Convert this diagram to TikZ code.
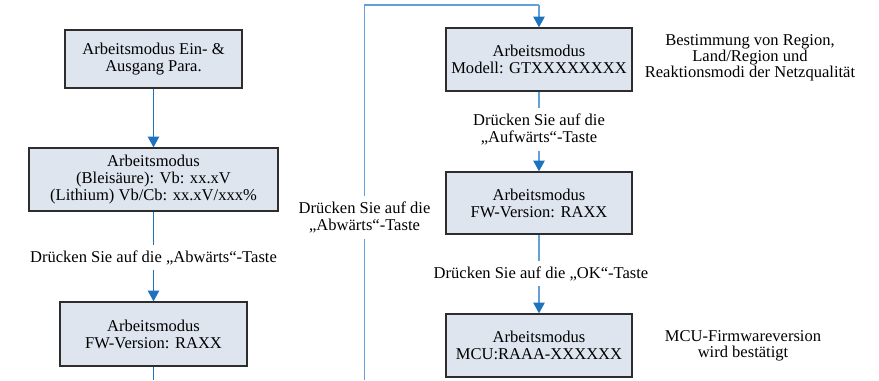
\documentclass[tikz,border=0pt]{standalone}
\usepackage{fontspec}
\setmainfont{Liberation Serif}
\usetikzlibrary{arrows.meta}
\definecolor{boxfill}{RGB}{222,229,239}
\definecolor{boxdraw}{RGB}{45,45,45}
\definecolor{arrblue}{RGB}{30,115,190}
\definecolor{loopblue}{RGB}{100,160,215}
\tikzset{
  modebox/.style={draw=boxdraw, fill=boxfill, line width=1pt, align=center, inner sep=0pt, font=\fontsize{12.4}{12.6}\selectfont},
  lbl/.style={align=center, inner xsep=2pt, inner ysep=4pt, font=\fontsize{12.4}{12.6}\selectfont},
  note/.style={align=center, inner sep=0pt, font=\fontsize{12.4}{12}\selectfont},
  conn/.style={draw=arrblue, line width=0.9pt},
  arr/.style={conn, -{Triangle[width=8.5pt,length=8pt,color=arrblue]}},
  lconn/.style={draw=loopblue, line width=0.9pt},
  larr/.style={lconn, -{Triangle[width=8.5pt,length=8pt,color=arrblue]}}
}
\begin{document}
\begin{tikzpicture}[x=0.75pt,y=-0.75pt]
\useasboundingbox (0,0) rectangle (879,380);
% left column
\node[modebox, minimum width=177*0.75pt, minimum height=58*0.75pt] (b1) at (153.5,59) {Arbeitsmodus Ein- \&\\Ausgang Para.};
\node[modebox, minimum width=249*0.75pt, minimum height=63*0.75pt] (b2) at (153.5,179.5) {Arbeitsmodus\\(Bleisäure): Vb: xx.xV\\(Lithium) Vb/Cb: xx.xV/xxx\%};
\node[lbl] (l1) at (153.5,257.5) {Drücken Sie auf die „Abwärts“-Taste};
\node[modebox, minimum width=187*0.75pt, minimum height=64*0.75pt] (b3) at (153.5,334) {Arbeitsmodus\\FW-Version: RAXX};
\coordinate (e1) at (153.5,380);
\draw[arr] (b1) -- (b2);
\draw[conn] (b2) -- (l1);
\draw[arr] (l1) -- (b3);
\draw[conn] (b3) -- (e1);
% loop
\coordinate (e2) at (364.5,380);
\node[lbl] (l2) at (364.5,217.5) {Drücken Sie auf die\\„Abwärts“-Taste};
\coordinate (t1) at (364.5,5);
\coordinate (t2) at (539,5);
% right column
\node[modebox, minimum width=186*0.75pt, minimum height=63*0.75pt] (b4) at (539,59.5) {Arbeitsmodus\\Modell: GTXXXXXXXX};
\node[lbl] (l3) at (539,129.5) {Drücken Sie auf die\\„Aufwärts“-Taste};
\node[modebox, minimum width=186*0.75pt, minimum height=62*0.75pt] (b5) at (539,203) {Arbeitsmodus\\FW-Version: RAXX};
\node[lbl] (l4) at (541,273.5) {Drücken Sie auf die „OK“-Taste};
\node[modebox, minimum width=186*0.75pt, minimum height=63*0.75pt] (b6) at (539,345.5) {Arbeitsmodus\\MCU:RAAA-XXXXXX};
\draw[lconn] (e2) -- (l2);
\draw[lconn] (l2) -- (t1) -- (t2);
\draw[larr] (t2) -- (b4);
\draw[lconn] (b4) -- (l3);
\draw[larr] (l3) -- (b5);
\draw[lconn] (b5) -- (b5 |- l4.north);
\draw[larr] (b5 |- l4.south) -- (b6);
% notes
\node[note] (n1) at (750,58) {Bestimmung von Region,\\Land/Region und\\Reaktionsmodi der Netzqualität};
\node[note] (n2) at (743,345.5) {MCU-Firmwareversion\\wird bestätigt};
\end{tikzpicture}
\end{document}
